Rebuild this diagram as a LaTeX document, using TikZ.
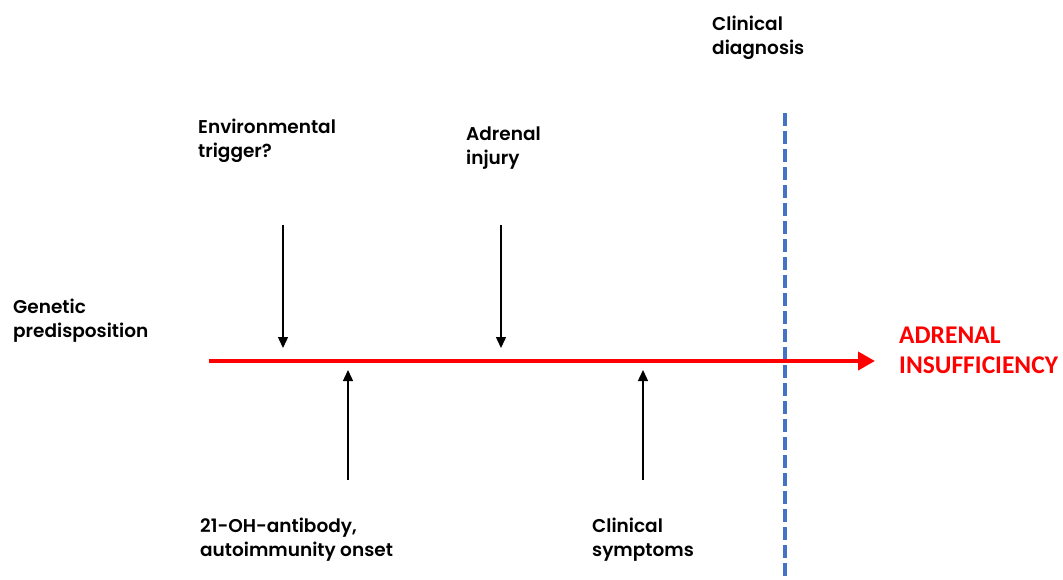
\documentclass[tikz,border=0pt]{standalone}
\usepackage{fontspec}
\setmainfont{Poppins}[BoldFont={* SemiBold}]
\newfontfamily\carl{Carlito}
\usetikzlibrary{arrows.meta}
\definecolor{axred}{HTML}{FF0000}
\definecolor{dashblue}{HTML}{4472C4}
\tikzset{
  lbl/.style={anchor=base west, inner sep=0pt, align=left, font=\bfseries\fontsize{18.5}{24}\selectfont},
  redlbl/.style={anchor=base west, inner sep=0pt, align=left, text=axred, font=\carl\bfseries\fontsize{25.5}{30}\selectfont},
  evarrow/.style={line width=1.4pt, -{Triangle[length=11pt,width=10pt]}},
  axis/.style={line width=4pt, draw=axred, -{Triangle[length=17pt,width=18pt]}},
  diag/.style={line width=3.5pt, draw=dashblue, dash pattern=on 13pt off 5pt}
}
\begin{document}
\begin{tikzpicture}[x=1pt,y=-1pt]
\useasboundingbox (0,0) rectangle (1063,579);
\fill[white] (0,0) rectangle (1063,579);
% dashed diagnosis line
\coordinate (dtop) at (785,113);
\coordinate (dbot) at (785,579);
\draw[diag] (dtop) -- (dbot);
% time axis
\coordinate (axstart) at (209,361);
\coordinate (axend) at (875,361);
\draw[axis] (axstart) -- (axend);
% arrows
\coordinate (envs) at (283,225); \coordinate (envt) at (283,348);
\coordinate (injs) at (501,225); \coordinate (injt) at (501,348);
\coordinate (abs) at (348,480);  \coordinate (abt) at (348,370);
\coordinate (sys) at (643,480);  \coordinate (syt) at (643,370);
\draw[evarrow] (envs) -- (envt);
\draw[evarrow] (injs) -- (injt);
\draw[evarrow] (abs) -- (abt);
\draw[evarrow] (sys) -- (syt);
% labels (base anchor = baseline of the last line)
\node[lbl] (gen) at (13,337) {Genetic\\predisposition};
\node[lbl] (env) at (198,157) {Environmental\\trigger?};
\node[lbl] (inj) at (466,164) {Adrenal\\injury};
\node[lbl] (diagn) at (712,54) {Clinical\\diagnosis};
\node[lbl] (ab) at (200,556) {21-OH-antibody,\\autoimmunity onset};
\node[lbl] (sym) at (592,556) {Clinical\\symptoms};
\node[redlbl] (ai) at (899,373) {ADRENAL\\INSUFFICIENCY};
\end{tikzpicture}
\end{document}
